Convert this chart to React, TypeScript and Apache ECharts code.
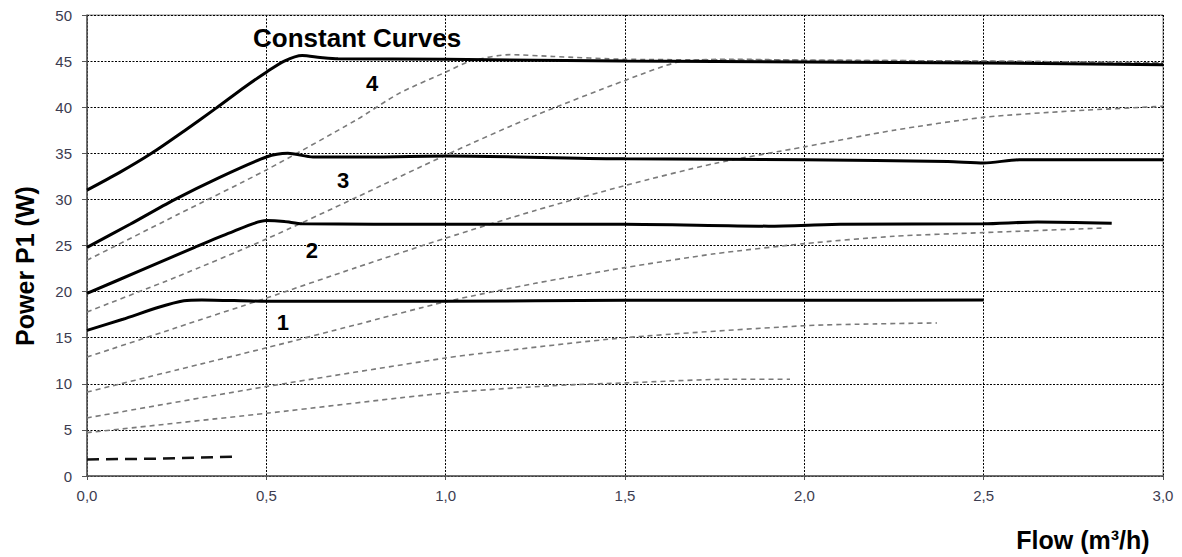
import React, { useEffect, useRef } from "react";
import * as echarts from "echarts";

// Constant curves (solid)
const flow4 = [0, 0.09, 0.18, 0.27, 0.36, 0.44, 0.5, 0.55, 0.6, 0.65, 0.7, 1.0, 1.5, 2.0, 2.5, 3.0];
const power4 = [31.0, 32.9, 35.0, 37.4, 39.9, 42.2, 43.8, 45.0, 45.6, 45.4, 45.25, 45.2, 45.0, 44.9, 44.8, 44.6];
const flow3 = [0, 0.12, 0.24, 0.37, 0.5, 0.56, 0.63, 0.8, 1.0, 1.5, 2.0, 2.4, 2.5, 2.6, 3.0];
const power3 = [24.8, 27.3, 29.9, 32.4, 34.6, 35.0, 34.6, 34.6, 34.7, 34.4, 34.3, 34.1, 33.95, 34.3, 34.3];
const flow2 = [0, 0.15, 0.3, 0.4, 0.5, 0.55, 0.6, 1.0, 1.5, 1.9, 2.1, 2.5, 2.65, 2.857];
const power2 = [19.8, 22.3, 24.8, 26.4, 27.7, 27.6, 27.35, 27.3, 27.3, 27.1, 27.3, 27.35, 27.55, 27.4];
const flow1 = [0, 0.1, 0.2, 0.27, 0.32, 0.5, 1.0, 1.5, 2.0, 2.5];
const power1 = [15.8, 17.0, 18.3, 19.0, 19.1, 18.95, 18.95, 19.05, 19.05, 19.1];

// Other curves (grey dashed)
const flowA = [0, 0.25, 0.5, 0.75, 0.87, 1.0, 1.07, 1.18, 1.3, 1.5, 2.0, 2.5, 3.0];
const powerA = [23.4, 28.3, 33.2, 38.6, 41.5, 43.8, 45.0, 45.7, 45.5, 45.2, 45.1, 45.0, 44.8];
const flowB = [0, 0.25, 0.5, 0.75, 1.0, 1.25, 1.5, 1.65, 1.8, 2.0, 2.5, 3.0];
const powerB = [17.8, 21.6, 25.7, 30.2, 34.8, 39.1, 42.9, 44.9, 45.2, 45.1, 45.0, 44.8];
const flowC = [0, 0.25, 0.5, 0.75, 1.0, 1.25, 1.5, 1.75, 2.0, 2.25, 2.5, 2.75, 3.0];
const powerC = [12.9, 16.1, 19.3, 22.6, 25.8, 28.8, 31.5, 33.9, 35.7, 37.5, 38.9, 39.6, 40.1];
const flowD = [0, 0.25, 0.5, 0.75, 1.0, 1.25, 1.5, 1.75, 2.0, 2.25, 2.5, 2.84];
const powerD = [9.1, 11.5, 13.9, 16.4, 18.9, 20.9, 22.6, 24.1, 25.2, 26.0, 26.4, 26.9];
const flowE = [0, 0.5, 1.0, 1.1, 1.5, 2.0, 2.2, 2.37];
const powerE = [6.3, 9.7, 12.8, 13.3, 15.0, 16.3, 16.5, 16.6];
const flowF = [0, 0.5, 1.0, 1.3, 1.5, 1.8, 1.96];
const powerF = [4.7, 6.8, 9.0, 9.8, 10.1, 10.5, 10.5];
const flowG = [0, 0.2, 0.42];
const powerG = [1.8, 1.88, 2.1];

// Curve labels (data coordinates)
const labelTexts = ["4", "3", "2", "1", "Constant Curves"];
const labelFlow = [0.795, 0.714, 0.627, 0.546, 0.753];
const labelPower = [42.6, 32.1, 24.5, 16.6, 47.5];

const FONT = "'Liberation Sans', Arial, sans-serif";

const pairs = (xs: number[], ys: number[]) => xs.map((x, i) => [x, ys[i]]);

export default function App() {
  const ref = useRef<HTMLDivElement>(null);
  useEffect(() => {
    document.body.style.margin = "0";
    const chart = echarts.init(ref.current!, null, { renderer: "svg" });
    const solid = (name: string, xs: number[], ys: number[]) => ({
      name,
      type: "line",
      data: pairs(xs, ys),
      showSymbol: false,
      smooth: 0.25,
      lineStyle: { color: "#000", width: 3 },
      z: 5,
    });
    const dashed = (name: string, xs: number[], ys: number[]) => ({
      name,
      type: "line",
      data: pairs(xs, ys),
      showSymbol: false,
      smooth: 0.25,
      lineStyle: { color: "#7a7a7a", width: 1.6, type: [5, 4] },
      z: 3,
    });
    chart.setOption({
      animation: false,
      backgroundColor: "#fff",
      grid: {
        left: 87,
        right: 19,
        top: 15,
        bottom: 81,
        show: true,
        borderColor: "#8a8a8a",
        borderWidth: 1,
      },
      xAxis: {
        type: "value",
        min: 0,
        max: 3,
        interval: 0.5,
        axisLine: { lineStyle: { color: "#555", width: 1.5 } },
        axisTick: { show: true, length: 4, lineStyle: { color: "#555" } },
        axisLabel: {
          margin: 12,
          color: "#3c3c50",
          fontSize: 15,
          fontFamily: FONT,
          formatter: (v: number) => v.toFixed(1).replace(".", ","),
        },
        splitLine: { lineStyle: { color: "#000", width: 1, type: [2, 1.5] } },
      },
      yAxis: {
        type: "value",
        min: 0,
        max: 50,
        interval: 5,
        axisLine: { show: true, lineStyle: { color: "#555", width: 1.5 } },
        axisTick: { show: true, length: 5, lineStyle: { color: "#555" } },
        axisLabel: {
          margin: 15,
          color: "#3c3c50",
          fontSize: 15,
          fontFamily: FONT,
        },
        splitLine: { lineStyle: { color: "#000", width: 1, type: [2, 1.5] } },
      },
      series: [
        dashed("A", flowA, powerA),
        dashed("B", flowB, powerB),
        dashed("C", flowC, powerC),
        dashed("D", flowD, powerD),
        dashed("E", flowE, powerE),
        dashed("F", flowF, powerF),
        {
          name: "G",
          type: "line",
          data: pairs(flowG, powerG),
          showSymbol: false,
          lineStyle: { color: "#111", width: 2.5, type: [12, 7] },
          z: 4,
        },
        solid("Curve 4", flow4, power4),
        solid("Curve 3", flow3, power3),
        solid("Curve 2", flow2, power2),
        solid("Curve 1", flow1, power1),
      ],
    });
    const labelEls = labelTexts.map((t, i) => {
      const [px, py] = chart.convertToPixel({ gridIndex: 0 }, [labelFlow[i], labelPower[i]]) as number[];
      return {
        type: "text",
        x: px,
        y: py,
        z: 10,
        style: {
          text: t,
          align: "center",
          verticalAlign: "middle",
          font: `bold ${t.length > 1 ? 26 : 22}px ${FONT}`,
          fill: "#000",
        },
      };
    });
    chart.setOption({
      graphic: [
        ...labelEls,
        {
          type: "text",
          x: 25,
          y: 266,
          rotation: Math.PI / 2,
          style: {
            text: "Power P1 (W)",
            align: "center",
            verticalAlign: "middle",
            font: `bold 25px ${FONT}`,
            fill: "#000",
          },
        },
        {
          type: "text",
          x: 1083,
          y: 540,
          style: {
            text: "Flow (m³/h)",
            align: "center",
            verticalAlign: "middle",
            font: `bold 25px ${FONT}`,
            fill: "#000",
          },
        },
      ],
    });
    return () => chart.dispose();
  }, []);
  return (
    <div
      ref={ref}
      style={{ position: "absolute", left: 0, top: 0, width: 1182, height: 557 }}
    />
  );
}
